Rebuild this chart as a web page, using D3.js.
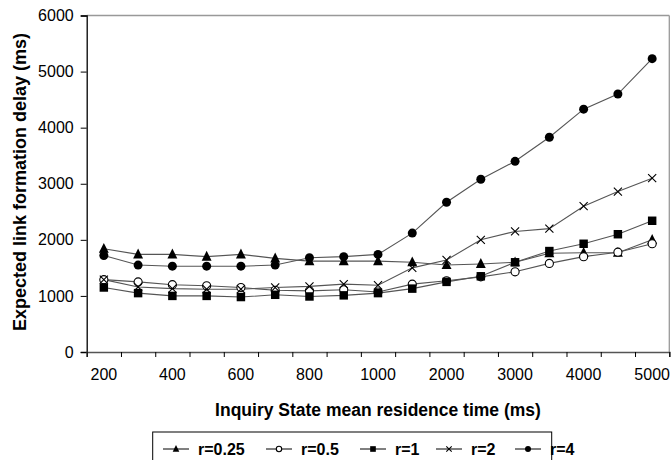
<!DOCTYPE html>
<html>
<head>
<meta charset="utf-8">
<script src="https://cdn.jsdelivr.net/npm/d3@7"></script>
<style>
  body { margin: 0; background: #fff; }
  svg text { font-family: Arial, "Liberation Sans", sans-serif; fill: #000; }
</style>
</head>
<body>
<svg id="chart" width="671" height="460"></svg>
<script>
// residence times (x categories) and delays per r value
const categories = [200, 300, 400, 500, 600, 700, 800, 900, 1000, 1500, 2000, 2500, 3000, 3500, 4000, 4500, 5000];
const xLabels = [200, 400, 600, 800, 1000, 2000, 3000, 4000, 5000];
const yTicks = [0, 1000, 2000, 3000, 4000, 5000, 6000];
const seriesNames = ["r=0.25", "r=0.5", "r=1", "r=2", "r=4"];
const r025 = [1840, 1740, 1740, 1700, 1740, 1670, 1620, 1620, 1620, 1600, 1550, 1570, 1600, 1760, 1770, 1770, 2000];
const r05  = [1290, 1250, 1200, 1180, 1150, 1100, 1090, 1110, 1070, 1210, 1270, 1340, 1430, 1580, 1700, 1780, 1930];
const r1   = [1150, 1050, 1000, 1000, 980, 1020, 990, 1010, 1050, 1130, 1250, 1350, 1600, 1800, 1930, 2100, 2340];
const r2   = [1290, 1160, 1130, 1120, 1120, 1150, 1170, 1210, 1190, 1500, 1640, 2000, 2150, 2200, 2600, 2860, 3100];
const r4   = [1720, 1550, 1530, 1530, 1530, 1550, 1680, 1700, 1740, 2120, 2670, 3080, 3400, 3830, 4330, 4600, 5230];

const series = [
  { name: seriesNames[0], values: r025, marker: "triangle" },
  { name: seriesNames[1], values: r05, marker: "open" },
  { name: seriesNames[2], values: r1, marker: "square" },
  { name: seriesNames[3], values: r2, marker: "cross" },
  { name: seriesNames[4], values: r4, marker: "dot" }
];

const svg = d3.select("#chart");
const plotL = 86.7, plotR = 669.3, plotT = 15.5, plotB = 352;

const x = d3.scaleBand().domain(categories).range([plotL, plotR]).padding(0);
const xEdge = d3.scaleLinear().domain([0, categories.length]).range([plotL, plotR]);
const y = d3.scaleLinear().domain([0, 6000]).range([plotB, plotT]);

// frame: top and right in light grey
svg.append("line").attr("x1", plotL).attr("x2", plotR).attr("y1", plotT).attr("y2", plotT)
   .attr("stroke", "#999").attr("stroke-width", 1.3);
svg.append("line").attr("x1", plotR).attr("x2", plotR).attr("y1", plotT).attr("y2", plotB)
   .attr("stroke", "#999").attr("stroke-width", 1.3);

// y axis
const gy = svg.append("g").attr("transform", `translate(${plotL},0)`)
  .call(d3.axisLeft(y).tickValues(yTicks).tickSize(6).tickPadding(7).tickFormat(d3.format("d")));
gy.select(".domain").attr("stroke", "#000").attr("stroke-width", 1.3);
gy.selectAll(".tick line").attr("stroke", "#000");
gy.selectAll("text").style("font-size", "16px");

// x axis: ticks at category edges, labels on every other category
const gxt = svg.append("g").attr("transform", `translate(0,${plotB})`)
  .call(d3.axisBottom(xEdge).tickValues(d3.range(categories.length + 1)).tickSize(5).tickFormat(""));
gxt.select(".domain").attr("stroke", "#555").attr("stroke-width", 1.6);
gxt.selectAll(".tick line").attr("stroke", "#000");

const gxl = svg.append("g").attr("transform", `translate(0,${plotB})`)
  .call(d3.axisBottom(x).tickValues(xLabels).tickSize(0).tickPadding(17));
gxl.select(".domain").remove();
gxl.selectAll("text").style("font-size", "16px");

// axis titles
svg.append("text").attr("x", 378).attr("y", 416).attr("text-anchor", "middle")
   .style("font-size", "17.5px").style("font-weight", "bold")
   .text("Inquiry State mean residence time (ms)");
svg.append("text").attr("transform", "translate(26,182) rotate(-90)").attr("text-anchor", "middle")
   .style("font-size", "18px").style("font-weight", "bold")
   .text("Expected link formation delay (ms)");

function drawMarker(g, type, cx, cy, s) {
  if (type === "triangle") {
    g.append("path").attr("d", `M${cx},${cy - s * 0.65}L${cx + s * 0.55},${cy + s * 0.45}L${cx - s * 0.55},${cy + s * 0.45}Z`)
     .attr("fill", "#000");
  } else if (type === "open") {
    g.append("circle").attr("cx", cx).attr("cy", cy).attr("r", s * 0.45)
     .attr("fill", "#fff").attr("stroke", "#000").attr("stroke-width", 1.1);
  } else if (type === "square") {
    g.append("rect").attr("x", cx - s * 0.47).attr("y", cy - s * 0.47).attr("width", s * 0.94).attr("height", s * 0.94)
     .attr("fill", "#000");
  } else if (type === "cross") {
    const h = s * 0.45;
    g.append("path").attr("d", `M${cx - h},${cy - h}L${cx + h},${cy + h}M${cx - h},${cy + h}L${cx + h},${cy - h}`)
     .attr("stroke", "#000").attr("stroke-width", 1.1).attr("fill", "none");
  } else {
    g.append("circle").attr("cx", cx).attr("cy", cy).attr("r", s * 0.5).attr("fill", "#000");
  }
}

const line = d3.line()
  .x((d, i) => x(categories[i]) + x.bandwidth() / 2)
  .y(d => y(d));

const plot = svg.append("g");
series.forEach(s => {
  plot.append("path").datum(s.values).attr("d", line)
      .attr("fill", "none").attr("stroke", "#555").attr("stroke-width", 1.1);
});
series.forEach(s => {
  const g = plot.append("g");
  s.values.forEach((v, i) => drawMarker(g, s.marker, x(categories[i]) + x.bandwidth() / 2, y(v), 9));
});

// legend
const legend = svg.append("g");
legend.append("rect").attr("x", 152.7).attr("y", 432).attr("width", 399).attr("height", 40)
      .attr("fill", "#fff").attr("stroke", "#000").attr("stroke-width", 1);
const legendX = [163, 266, 360, 436, 515];
series.forEach((s, i) => {
  const lx = legendX[i], ly = 449;
  legend.append("line").attr("x1", lx).attr("x2", lx + 26).attr("y1", ly).attr("y2", ly)
        .attr("stroke", "#000").attr("stroke-width", 1);
  drawMarker(legend, s.marker, lx + 13, ly, 6);
  legend.append("text").attr("x", lx + 35).attr("y", ly).attr("dy", "0.36em")
        .style("font-size", "16px").style("font-weight", "bold").text(s.name);
});
</script>
</body>
</html>
